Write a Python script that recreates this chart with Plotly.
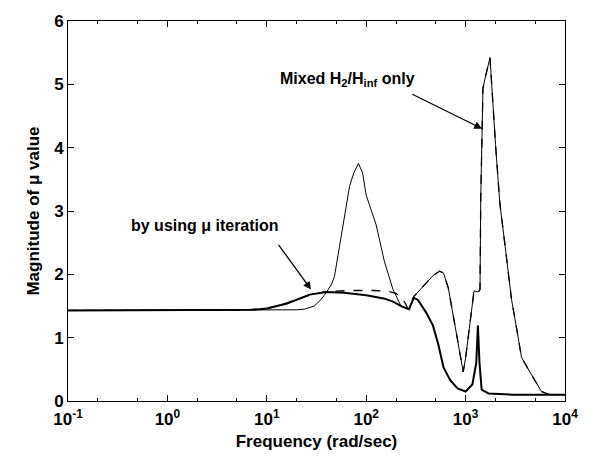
import plotly.graph_objects as go

# Mixed H2/Hinf only (thin solid)
freq_mixed = [0.1, 1, 5, 10, 20, 24, 30, 35, 40, 45, 48, 54, 61, 68, 75, 83.6, 92, 100, 113, 126, 152, 186, 224, 263, 285, 301, 350, 397, 470, 547, 600, 671, 720, 790, 860, 925, 946, 1000, 1061, 1140, 1216, 1340, 1396, 1420, 1495, 1600, 1760, 2000, 2208, 2500, 2900, 3300, 3650, 4500, 5800, 7000, 10000]
mu_mixed = [1.43, 1.43, 1.43, 1.44, 1.44, 1.45, 1.5, 1.6, 1.72, 1.85, 1.97, 2.45, 2.95, 3.39, 3.6, 3.75, 3.6, 3.25, 3.0, 2.78, 2.21, 1.76, 1.5, 1.45, 1.52, 1.65, 1.76, 1.86, 1.98, 2.05, 2.02, 1.78, 1.5, 1.15, 0.85, 0.56, 0.46, 0.68, 1.0, 1.4, 1.74, 1.72, 1.76, 3.2, 4.94, 5.15, 5.42, 4.05, 3.13, 2.44, 1.6, 1.1, 0.69, 0.44, 0.15, 0.1, 0.1]

# mu iteration (dashed)
freq_dash = [0.1, 1, 5, 10, 16, 27, 40, 70, 120, 170, 200, 230, 250, 263, 285, 301, 350, 397, 470, 547, 600, 671, 720, 790, 860, 925, 946, 1000, 1061, 1140, 1216, 1340, 1396, 1420, 1495, 1600, 1760, 2000, 2208, 2500, 2900, 3300, 3650, 4500, 5800, 7000, 10000]
mu_dash = [1.43, 1.43, 1.43, 1.46, 1.55, 1.67, 1.73, 1.745, 1.745, 1.73, 1.7, 1.62, 1.53, 1.45, 1.52, 1.65, 1.76, 1.86, 1.98, 2.05, 2.02, 1.78, 1.5, 1.15, 0.85, 0.56, 0.46, 0.68, 1.0, 1.4, 1.74, 1.72, 1.76, 3.2, 4.94, 5.15, 5.42, 4.05, 3.13, 2.44, 1.6, 1.1, 0.69, 0.44, 0.15, 0.1, 0.1]

# mu iteration (thick solid)
freq_iter = [0.1, 1, 5, 7.3, 10, 16, 27, 40, 60, 100, 150, 186, 230, 270, 300, 330, 400, 470, 530, 600, 700, 830, 1000, 1170, 1280, 1330, 1380, 1450, 1700, 3000, 10000]
mu_iter = [1.43, 1.43, 1.43, 1.44, 1.46, 1.54, 1.68, 1.72, 1.71, 1.67, 1.62, 1.57, 1.49, 1.45, 1.63, 1.6, 1.4, 1.19, 0.9, 0.53, 0.33, 0.2, 0.15, 0.26, 0.6, 1.19, 0.6, 0.18, 0.12, 0.1, 0.1]

x_tickvals = [0.1, 1, 10, 100, 1000, 10000]
x_ticktext = ["10<sup>-1</sup>", "10<sup>0</sup>", "10<sup>1</sup>", "10<sup>2</sup>", "10<sup>3</sup>", "10<sup>4</sup>"]
y_tickvals = [0, 1, 2, 3, 4, 5, 6]

font_family = "Liberation Sans, Arial, sans-serif"


def bold(s):
    return "<b>" + s + "</b>"


fig = go.Figure()
fig.add_trace(go.Scatter(x=freq_mixed, y=mu_mixed, mode="lines",
                         line=dict(color="black", width=1), showlegend=False))
fig.add_trace(go.Scatter(x=freq_dash, y=mu_dash, mode="lines",
                         line=dict(color="black", width=1.3, dash="dash"), showlegend=False))
fig.add_trace(go.Scatter(x=freq_iter, y=mu_iter, mode="lines",
                         line=dict(color="black", width=2), showlegend=False))

fig.add_annotation(x=0.382, y=2.77, xref="x", yref="y", text=bold("by using \u03bc iteration"),
                   showarrow=False, font=dict(size=16, color="black", family=font_family))
fig.add_annotation(x=1.445, y=1.76, ax=1.107, ay=2.49, xref="x", yref="y", axref="x", ayref="y",
                   text="", showarrow=True, arrowhead=2, arrowsize=1.2, arrowwidth=1.3, arrowcolor="black")
fig.add_annotation(x=1.81, y=5.07, xref="x", yref="y",
                   text=bold("Mixed H<sub>2</sub>/H<sub>inf</sub> only"),
                   showarrow=False, font=dict(size=16, color="black", family=font_family))
fig.add_annotation(x=3.165, y=4.3, ax=2.449, ay=4.855, xref="x", yref="y", axref="x", ayref="y",
                   text="", showarrow=True, arrowhead=2, arrowsize=1.2, arrowwidth=1.3, arrowcolor="black")

fig.update_xaxes(type="log", range=[-1, 4], tickvals=x_tickvals, ticktext=[bold(t) for t in x_ticktext],
                 ticks="inside", ticklen=6, tickcolor="black", showline=True, linecolor="black",
                 linewidth=1, mirror="ticks", showgrid=False, zeroline=False, ticklabelstandoff=3,
                 minor=dict(ticks="inside", ticklen=3, tickcolor="black", showgrid=False),
                 tickfont=dict(size=17, color="black", family=font_family),
                 title=dict(text=bold("Frequency (rad/sec)"), font=dict(size=17, color="black", family=font_family), standoff=6))
fig.update_yaxes(range=[0, 6], tickvals=y_tickvals, ticktext=[bold(str(v)) for v in y_tickvals],
                 ticks="inside", ticklen=6, tickcolor="black", showline=True, linecolor="black",
                 linewidth=1, mirror="ticks", showgrid=False, zeroline=False,
                 tickfont=dict(size=17, color="black", family=font_family),
                 title=dict(text=bold("Magnitude of \u03bc value"), font=dict(size=17, color="black", family=font_family), standoff=10))

fig.update_layout(width=590, height=459, margin=dict(l=68, r=19, t=15, b=56),
                  paper_bgcolor="white", plot_bgcolor="white")

fig.write_html("out.html")
